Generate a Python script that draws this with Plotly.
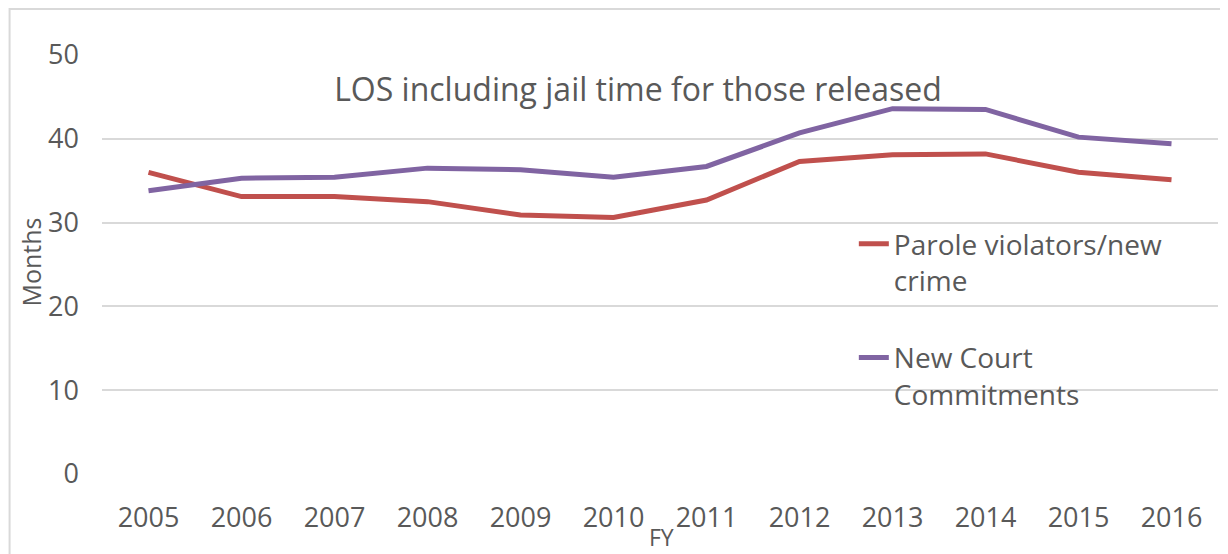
import plotly.graph_objects as go

years = ["2005", "2006", "2007", "2008", "2009", "2010", "2011", "2012", "2013", "2014", "2015", "2016"]
parole_violators = [36.0, 33.1, 33.1, 32.5, 30.9, 30.6, 32.7, 37.3, 38.1, 38.2, 36.0, 35.1]
new_court = [33.8, 35.3, 35.4, 36.5, 36.3, 35.4, 36.7, 40.7, 43.6, 43.5, 40.2, 39.4]
y_ticks = [0, 10, 20, 30, 40, 50]

FONT = "Open Sans"
TXT = "#595959"
GRID = "#d9d9d9"

# page has an 8px body margin; figure sized to fill the rest of the window
OFF = 8
W, H = 1228 - OFF, 554 - OFF
# plot area in page pixels: x 101.5..1218.5, y 55..474
L = 101.5 - OFF
R = W - (1218.5 - OFF)
T = 55 - OFF
B = H - (474 - OFF)
pw = W - L - R
ph = H - T - B


def px_x(page_x):
    return (page_x - OFF - L) / pw


def px_y(page_y):
    return (H - B - (page_y - OFF)) / ph


fig = go.Figure()
fig.add_trace(go.Scatter(x=years, y=parole_violators, mode="lines",
                         name="Parole violators/new<br>crime", legendgroup="a",
                         line=dict(color="#C0504D", width=5)))
fig.add_trace(go.Scatter(x=years, y=new_court, mode="lines",
                         name="New Court<br>Commitments", legendgroup="b",
                         line=dict(color="#8064A2", width=5)))

fig.update_layout(
    width=W, height=H,
    margin=dict(l=L, r=R, t=T, b=B, pad=0),
    paper_bgcolor="white", plot_bgcolor="white",
    font=dict(family=FONT, color=TXT, size=26),
    title=dict(text="LOS including jail time for those released",
               x=px_x(638), xref="paper", xanchor="center",
               y=1 - (90 - OFF) / H, yref="container", yanchor="middle",
               font=dict(size=32, color=TXT, family=FONT)),
    xaxis=dict(type="category", range=[-0.5, 11.5], showgrid=False,
               showline=False, zeroline=False, ticks="",
               tickfont=dict(size=27, color=TXT), ticklabelstandoff=25),
    yaxis=dict(range=[0, 50], tickvals=y_ticks, showgrid=True, gridcolor=GRID,
               gridwidth=2, zeroline=False, showline=False, ticks="",
               tickfont=dict(size=27, color=TXT), ticklabelstandoff=22),
    legend=dict(x=px_x(854), xanchor="left", y=px_y(219), yanchor="top",
                font=dict(size=28, color=TXT, family=FONT),
                valign="top", traceorder="grouped", tracegroupgap=38,
                bgcolor="rgba(0,0,0,0)"),
    showlegend=True,
)

fig.add_annotation(text="Months", x=px_x(30), y=px_y(262), xref="paper", yref="paper",
                   xanchor="center", yanchor="middle",
                   textangle=-90, showarrow=False, font=dict(size=25, color=TXT, family=FONT))
fig.add_annotation(text="FY", x=px_x(662), y=px_y(537), xref="paper", yref="paper",
                   xanchor="center", yanchor="middle",
                   showarrow=False, font=dict(size=23, color=TXT, family=FONT))

# light chart frame (top and left edges visible)
fig.add_shape(type="rect", xref="paper", yref="paper",
              x0=px_x(OFF + 1), x1=px_x(1260), y0=px_y(700), y1=px_y(OFF + 1),
              line=dict(color=GRID, width=2), fillcolor="rgba(0,0,0,0)", layer="below")

fig.write_html("out.html")
